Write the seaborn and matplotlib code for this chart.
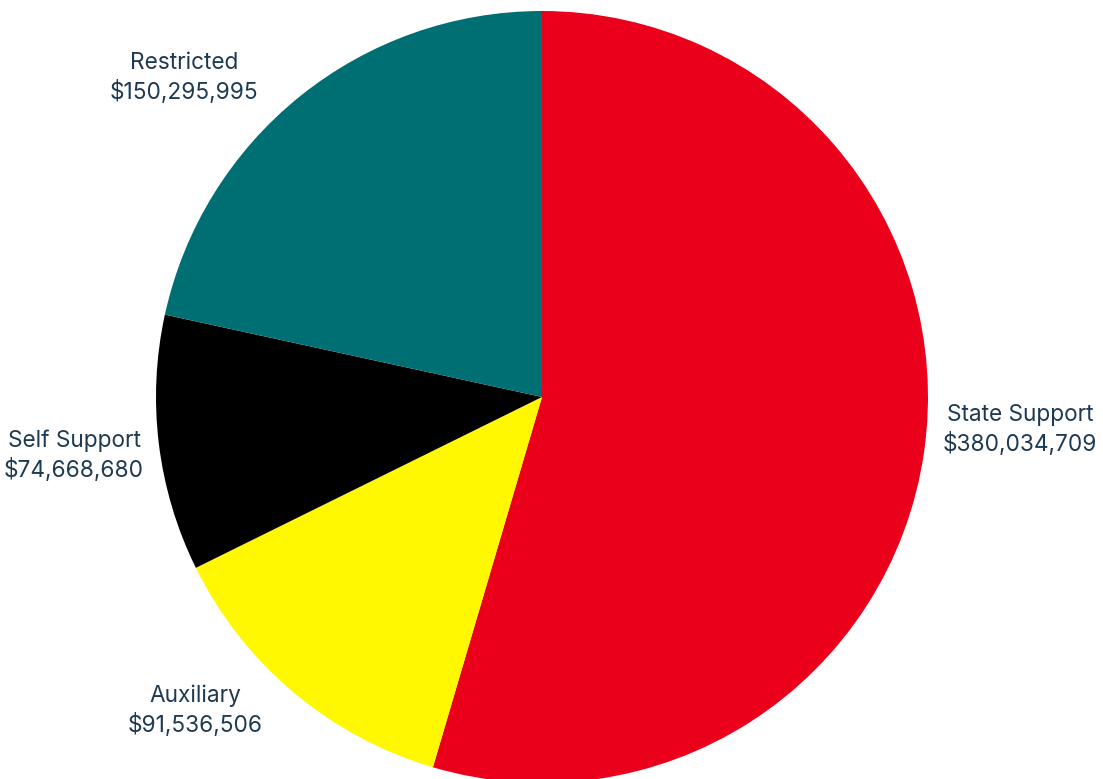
import matplotlib
matplotlib.use("Agg")
import matplotlib.pyplot as plt
import seaborn as sns

categories = ["State Support", "Auxiliary", "Self Support", "Restricted"]
values = [380034709, 91536506, 74668680, 150295995]
colors = ["#EA001B", "#FFF800", "#000000", "#006F74"]
label_texts = [f"{c}\n${v:,.0f}" for c, v in zip(categories, values)]

sns.set_theme(style="white")
plt.rcParams["font.family"] = ["Inter", "DejaVu Sans"]

W, H, dpi = 1103, 779, 100
fig = plt.figure(figsize=(W / dpi, H / dpi), dpi=dpi)
ax = fig.add_axes([0, 0, 1, 1])
ax.set_axis_off()

R = 386.0
cx, cy = 542.0, 397.0
wedges, _ = ax.pie(values, colors=colors, startangle=90, counterclock=False,
                   radius=1.0, wedgeprops=dict(linewidth=0))
ax.set_aspect("equal")
ax.set_xlim(-cx / R, (W - cx) / R)
ax.set_ylim(-(H - cy) / R, cy / R)

# label anchor positions (pixel centres of the two-line labels)
label_pos = [(1020, 430), (195, 711), (74, 456), (184, 78)]
for txt, (px, py) in zip(label_texts, label_pos):
    ax.text((px - cx) / R, (cy - py) / R, txt, ha="center", va="center",
            fontsize=16.3, color="#1E3A52", linespacing=1.3)

fig.savefig("out.png", dpi=dpi)
